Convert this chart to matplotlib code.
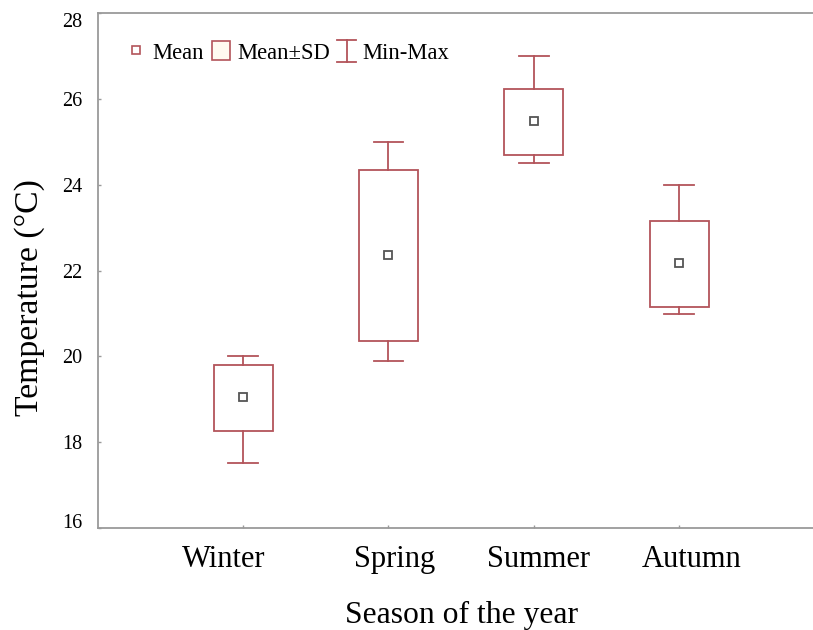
import matplotlib
matplotlib.use("Agg")
import matplotlib.pyplot as plt
import matplotlib.transforms as mtransforms
from matplotlib.lines import Line2D
from matplotlib.patches import Patch
from matplotlib.legend_handler import HandlerBase

seasons = ["Winter", "Spring", "Summer", "Autumn"]
means = [19.05, 22.36, 25.48, 22.17]
sd_low = [18.27, 20.37, 24.70, 21.16]
sd_high = [19.80, 24.35, 26.23, 23.16]
mins = [17.51, 19.90, 24.50, 21.00]
maxs = [20.00, 25.00, 27.00, 24.00]
yticks = [16, 18, 20, 22, 24, 26, 28]

RED = "#b3545a"
SPINE = "#9a9a9a"
FONT = "Liberation Serif"

plt.rcParams["font.family"] = [FONT, "DejaVu Serif"]

fig = plt.figure(figsize=(8.13, 6.30), dpi=100)
ax = fig.add_axes([97.7 / 813, 102 / 630, 1 - 97.7 / 813, (528 - 13.3) / 630])

pos = list(range(1, len(seasons) + 1))
bw = 0.405
cw = 0.205
for x, m, lo, hi, mn, mx in zip(pos, means, sd_low, sd_high, mins, maxs):
    ax.add_patch(plt.Rectangle((x - bw / 2, lo), bw, hi - lo, facecolor="white",
                               edgecolor=RED, linewidth=1.3, zorder=2))
    ax.plot([x, x], [hi, mx], color=RED, lw=1.3, zorder=2)
    ax.plot([x, x], [mn, lo], color=RED, lw=1.3, zorder=2)
    ax.plot([x - cw / 2, x + cw / 2], [mx, mx], color=RED, lw=1.3, zorder=2)
    ax.plot([x - cw / 2, x + cw / 2], [mn, mn], color=RED, lw=1.3, zorder=2)
ax.plot(pos, means, linestyle="none", marker="s", markersize=5.5,
        markerfacecolor="white", markeredgecolor="#555555", markeredgewidth=1.3, zorder=3)

ax.set_xlim(0, 4.92)
ax.set_ylim(16, 28)
ax.set_yticks(yticks)
ax.set_yticklabels([str(t) for t in yticks], fontsize=14.5)
lbls = ax.get_yticklabels()
lbls[0].set_va("baseline")
lbls[-1].set_va("top")
ax.set_xticks(pos)
ax.set_xticklabels([])

# category labels (slightly offset as in the original rendering)
label_shift_px = [-19, 6, 5, 12]
base = mtransforms.blended_transform_factory(ax.transData, ax.transAxes)
for x, name, dx in zip(pos, seasons, label_shift_px):
    tr = base + mtransforms.ScaledTranslation(dx / 100, -17 / 100, fig.dpi_scale_trans)
    ax.text(x, 0, name, transform=tr, ha="center", va="top", fontsize=22, clip_on=False)

ax.tick_params(axis="y", direction="in", length=2.5, width=1, color=SPINE, pad=11)
ax.tick_params(axis="x", direction="in", length=2.5, width=1, color=SPINE)

for s in ["left", "bottom", "top"]:
    ax.spines[s].set_color(SPINE)
    ax.spines[s].set_linewidth(1.3)
ax.spines["right"].set_visible(False)

ax.set_xlabel("Season of the year", fontsize=22.8)
ax.xaxis.set_label_coords(0.509, -0.1415)
ax.set_ylabel("Temperature (°C)", fontsize=24.3)
ax.yaxis.set_label_coords(-0.073, 0.448)


class HandlerIBeam(HandlerBase):
    def create_artists(self, legend, orig_handle, xdescent, ydescent, width, height, fontsize, trans):
        cx = width / 2 - xdescent
        cy = height / 2 - ydescent
        y0 = cy - 7.9
        y1 = cy + 7.9
        hw = 6.8
        arts = [
            Line2D([cx, cx], [y0, y1], color=RED, lw=1.3),
            Line2D([cx - hw, cx + hw], [y0, y0], color=RED, lw=1.3),
            Line2D([cx - hw, cx + hw], [y1, y1], color=RED, lw=1.3),
        ]
        for a in arts:
            a.set_transform(trans)
        return arts


class IBeam:
    pass


h_mean = Line2D([], [], linestyle="none", marker="s", markersize=5.5,
                markerfacecolor="white", markeredgecolor=RED, markeredgewidth=1.2)
h_box = Patch(facecolor="#fffaf0", edgecolor=RED, linewidth=1.2)
h_ib = IBeam()
leg = ax.legend([h_mean, h_box, h_ib], ["Mean", "Mean±SD", "Min-Max"], ncol=3,
                loc="upper left", bbox_to_anchor=(0.0132, 0.985), frameon=False,
                fontsize=16.3, handlelength=0.77, handleheight=0.9, handletextpad=0.33,
                columnspacing=0.36, handler_map={IBeam: HandlerIBeam()})

fig.savefig("out.png", dpi=100)
